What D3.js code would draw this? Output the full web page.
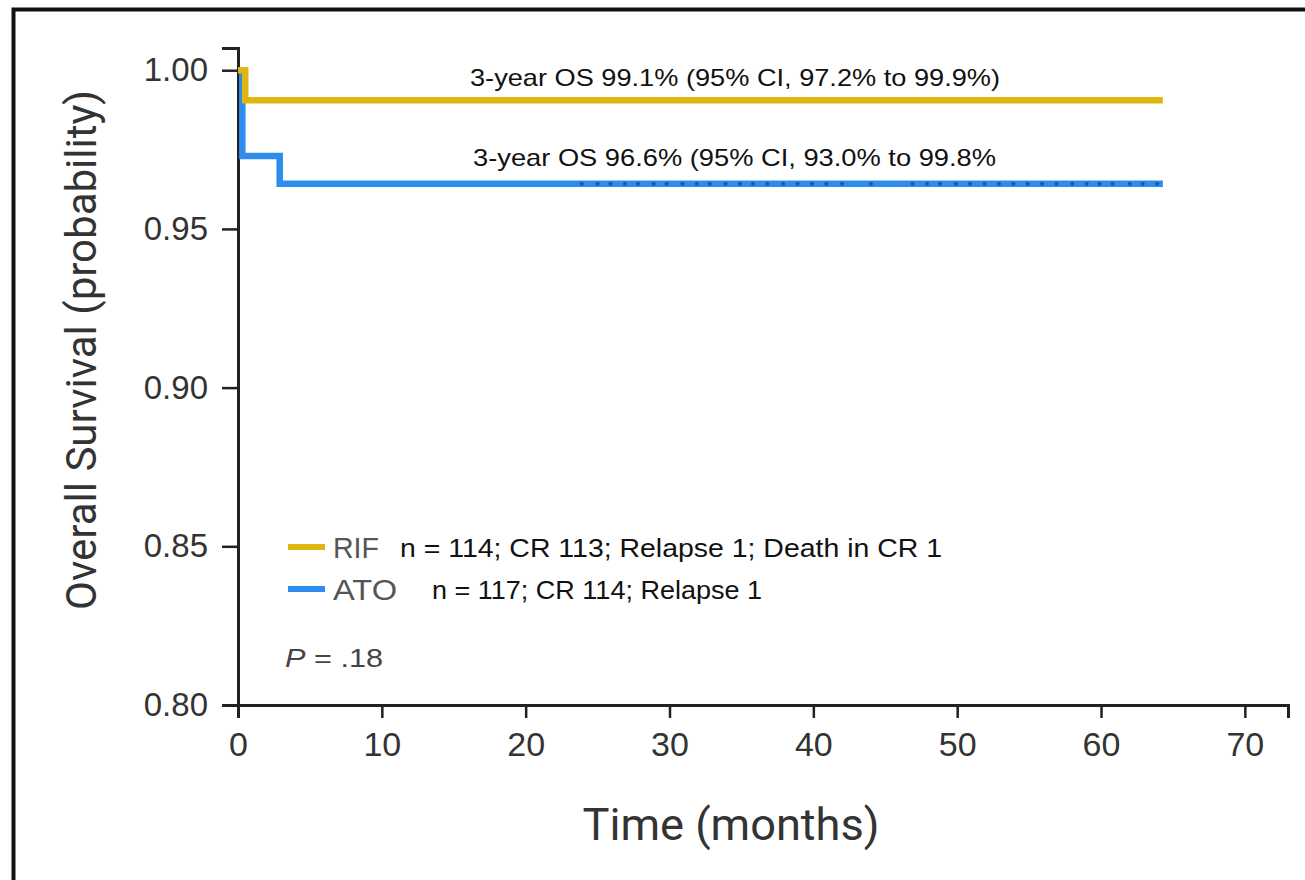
<!DOCTYPE html>
<html>
<head>
<meta charset="utf-8">
<script src="https://cdn.jsdelivr.net/npm/d3@7"></script>
<style>
  body { margin: 0; background: #fff; }
  svg { display: block; }
</style>
</head>
<body>
<div id="chart"></div>
<script>
// Kaplan-Meier steps (time in months, survival probability)
var rifTimes = [0, 0.5, 64.3];
var rifSurv = [1.0, 0.9905, 0.9905];
var atoTimes = [0, 0.3, 2.9, 64.3];
var atoSurv = [1.0, 0.973, 0.9642, 0.9642];
// censor marks on the ATO curve
var atoCensor = [23.9, 25.0, 25.9, 26.9, 27.8, 28.9, 29.8, 30.9, 31.9, 32.8, 33.9, 34.9,
  35.8, 36.8, 37.9, 38.9, 39.9, 40.9, 42.0, 44.0, 46.9, 47.9, 48.8, 49.9, 50.9, 51.9,
  52.9, 53.9, 54.9, 55.9, 56.9, 58.0, 59.0, 59.9, 60.8, 62.0, 62.9, 63.9];

var xTicks = [0, 10, 20, 30, 40, 50, 60, 70];
var yTicks = [0.80, 0.85, 0.90, 0.95, 1.00];

var legendNames = ["RIF", "ATO"];
var legendNotes = ["n = 114; CR 113; Relapse 1; Death in CR 1", "n = 117; CR 114; Relapse 1"];
var osNotes = ["3-year OS 99.1% (95% CI, 97.2% to 99.9%)", "3-year OS 96.6% (95% CI, 93.0% to 99.8%"];

var gold = "#dfb512";
var blue = "#2d8ced";

var width = 1305, height = 880;
var svg = d3.select("#chart").append("svg")
  .attr("width", width)
  .attr("height", height);

// outer frame (only left/top visible)
svg.append("rect")
  .attr("x", 13.5).attr("y", 9.5)
  .attr("width", width + 20).attr("height", height + 20)
  .attr("fill", "none").attr("stroke", "#111").attr("stroke-width", 4);

var x = d3.scaleLinear().domain([0, 73]).range([238, 1288]);
var y = d3.scaleLinear().domain([0.8, 1.007]).range([705, 48]);

var tickFont = "'Liberation Sans', Arial, sans-serif";

// x axis
var gx = svg.append("g")
  .attr("transform", "translate(0," + y(0.8) + ")")
  .call(d3.axisBottom(x).tickValues(xTicks).tickFormat(d3.format("d")).tickSizeOuter(0).tickSize(13).tickPadding(14));
gx.select(".domain").attr("stroke", "#222").attr("stroke-width", 3);
gx.selectAll(".tick line").attr("stroke", "#222").attr("stroke-width", 2.5);
gx.selectAll(".tick text").attr("font-family", tickFont).attr("font-size", 34).attr("fill", "#333");

// y axis
var gy = svg.append("g")
  .attr("transform", "translate(" + x(0) + ",0)")
  .call(d3.axisLeft(y).tickValues(yTicks).tickFormat(d3.format(".2f")).tickSizeOuter(0).tickSize(16).tickPadding(14));
gy.select(".domain").attr("stroke", "#222").attr("stroke-width", 3);
gy.selectAll(".tick line").attr("stroke", "#222").attr("stroke-width", 2.5);
gy.selectAll(".tick text").attr("font-family", tickFont).attr("font-size", 33).attr("fill", "#333");

// axis titles
var condFont = "'Liberation Sans Narrow', 'Roboto', 'DejaVu Sans Condensed', sans-serif";
svg.append("text")
  .attr("transform", "translate(96,350) rotate(-90)")
  .attr("text-anchor", "middle")
  .attr("font-family", condFont)
  .attr("font-size", 42)
  .attr("fill", "#333")
  .attr("textLength", 520).attr("lengthAdjust", "spacingAndGlyphs")
  .text("Overall Survival (probability)");

svg.append("text")
  .attr("x", 731).attr("y", 840)
  .attr("text-anchor", "middle")
  .attr("font-family", condFont)
  .attr("font-size", 44)
  .attr("fill", "#333")
  .attr("textLength", 297).attr("lengthAdjust", "spacingAndGlyphs")
  .text("Time (months)");

// survival curves
var line = d3.line().x(function (d) { return x(d[0]); }).y(function (d) { return y(d[1]); }).curve(d3.curveStepAfter);

svg.append("path")
  .datum(d3.zip(atoTimes, atoSurv))
  .attr("d", line)
  .attr("fill", "none").attr("stroke", blue).attr("stroke-width", 6.5);

svg.selectAll(".cens")
  .data(atoCensor)
  .enter().append("circle")
  .attr("class", "cens")
  .attr("cx", function (d) { return x(d); })
  .attr("cy", y(atoSurv[atoSurv.length - 1]))
  .attr("r", 2)
  .attr("fill", "#1658b3");

svg.append("path")
  .datum(d3.zip(rifTimes, rifSurv))
  .attr("d", line)
  .attr("fill", "none").attr("stroke", gold).attr("stroke-width", 6.5);

// OS annotations
var textFont = "'Liberation Sans', Arial, sans-serif";
svg.append("text")
  .attr("x", 470).attr("y", 86)
  .attr("font-family", textFont).attr("font-size", 24).attr("fill", "#111")
  .attr("textLength", 530).attr("lengthAdjust", "spacingAndGlyphs")
  .text(osNotes[0]);
svg.append("text")
  .attr("x", 473).attr("y", 166)
  .attr("font-family", textFont).attr("font-size", 24).attr("fill", "#111")
  .attr("textLength", 523).attr("lengthAdjust", "spacingAndGlyphs")
  .text(osNotes[1]);

// legend
var legendY = [547, 589];
var legendCol = [gold, blue];
var nameLen = [46, 64];
var noteX = [400, 432];
var noteLen = [542, 330];
legendNames.forEach(function (name, i) {
  svg.append("line")
    .attr("x1", 288).attr("x2", 325)
    .attr("y1", legendY[i]).attr("y2", legendY[i])
    .attr("stroke", legendCol[i]).attr("stroke-width", 6);
  svg.append("text")
    .attr("x", 333).attr("y", legendY[i] + 11)
    .attr("font-family", textFont).attr("font-size", 30).attr("fill", "#555")
    .attr("textLength", nameLen[i]).attr("lengthAdjust", "spacingAndGlyphs")
    .text(name);
  svg.append("text")
    .attr("x", noteX[i]).attr("y", legendY[i] + 10)
    .attr("font-family", textFont).attr("font-size", 25).attr("fill", "#111")
    .attr("textLength", noteLen[i]).attr("lengthAdjust", "spacingAndGlyphs")
    .text(legendNotes[i]);
});

var pText = svg.append("text")
  .attr("x", 285).attr("y", 667)
  .attr("font-family", textFont).attr("font-size", 25).attr("fill", "#444")
  .attr("textLength", 98).attr("lengthAdjust", "spacingAndGlyphs");
pText.append("tspan").attr("font-style", "italic").text("P");
pText.append("tspan").text(" = .18");
</script>
</body>
</html>
